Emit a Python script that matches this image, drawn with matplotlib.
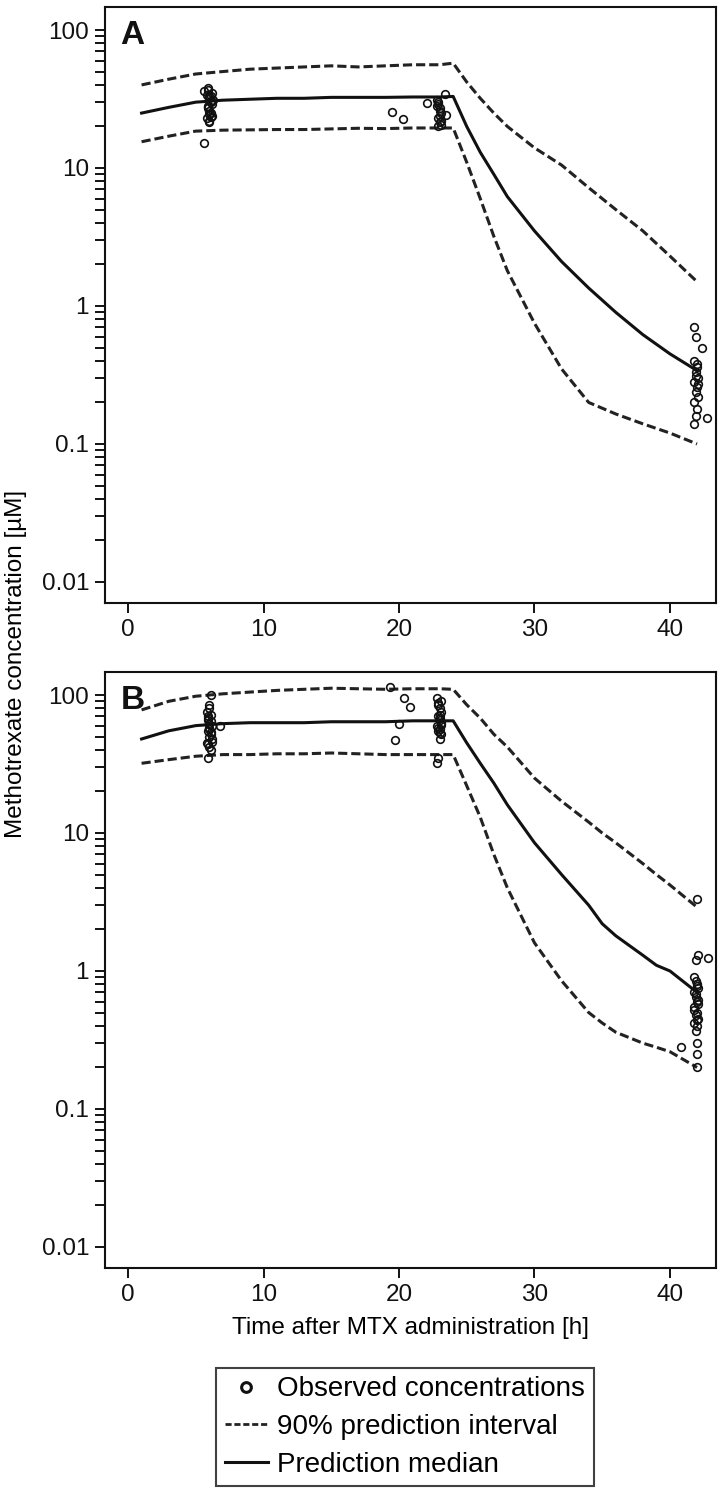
import numpy as np
import matplotlib.pyplot as plt
from matplotlib.lines import Line2D
from matplotlib.ticker import FixedLocator, NullFormatter

plt.rcParams["font.family"] = ["Liberation Sans", "DejaVu Sans"]

# ---- panel A: prediction curves ----
tA = [1, 3, 5, 7, 9, 11, 13, 15, 17, 19, 21, 23, 24, 25, 26, 27, 28, 30, 32, 34, 36, 38, 40, 42]
upA = [40, 44, 48, 50, 52, 53, 54, 55, 54, 55, 56, 56, 57.5, 42, 32, 25, 20, 14, 10.5, 7.2, 5.0, 3.5, 2.3, 1.5]
medA = [25, 27.5, 30, 31, 31.5, 32, 32, 32.5, 32.5, 32.5, 32.7, 32.7, 33, 20, 13, 9, 6.2, 3.5, 2.1, 1.35, 0.9, 0.62, 0.45, 0.34]
loA = [15.5, 17, 18.5, 18.8, 18.9, 19, 19, 19.2, 19.4, 19.3, 19.5, 19.5, 19.5, 11, 6, 3.2, 1.8, 0.75, 0.35, 0.2, 0.165, 0.14, 0.12, 0.1]

# ---- panel B: prediction curves ----
tB = [1, 3, 5, 7, 9, 11, 13, 15, 17, 19, 21, 23, 24, 25, 26, 27, 28, 30, 32, 34, 35, 36, 38, 39, 40, 42]
upB = [78, 90, 98, 102, 105, 108, 110, 112, 111, 110, 111, 111, 110, 85, 68, 52, 42, 25, 17, 12, 10, 8.5, 6, 5, 4.2, 2.9]
medB = [48, 55, 60, 62, 63, 63, 63, 64, 64, 64, 65, 65, 65, 45, 32, 23, 16, 8.5, 5, 3, 2.2, 1.8, 1.3, 1.1, 1.0, 0.7]
loB = [32, 34, 36, 37, 37, 37.5, 37.5, 38, 37.5, 37, 37, 37, 37, 22, 13, 7, 4, 1.6, 0.85, 0.5, 0.42, 0.36, 0.3, 0.28, 0.26, 0.2]

# ---- panel A: observed concentrations ----
obsA_t = [5.6, 5.8, 5.9, 6.0, 6.1, 6.2, 5.9, 6.0, 6.1, 6.2, 5.8, 6.0, 6.3, 6.1, 5.9, 6.0, 6.2, 5.9,
          6.0, 6.1, 5.9, 6.0, 6.1, 5.6,
          19.5, 20.3, 22.1, 23.4, 23.5, 22.8, 22.9, 23.0, 23.1, 22.9, 23.0, 23.1, 22.8, 23.0,
          22.9, 23.0, 23.1, 22.9,
          41.8, 41.9, 42.4, 41.8, 42.0, 41.9, 42.1, 41.8, 42.0, 41.9, 42.1, 41.8, 42.0, 41.9, 41.8, 42.7,
          42.0, 41.9, 42.1]
obsA_c = [36, 34, 38, 32, 30, 29, 27, 26, 25, 24, 23, 22, 31, 33, 28, 21.5, 35, 37,
          33.5, 30.5, 27.5, 24.5, 23.5, 15.2,
          25.5, 22.6, 29.5, 34.4, 24.2, 31, 29, 27, 25, 23, 21.5, 20.5, 28, 26,
          30, 24, 22, 20,
          0.7, 0.6, 0.5, 0.4, 0.38, 0.33, 0.3, 0.28, 0.26, 0.24, 0.22, 0.2, 0.18, 0.16, 0.14, 0.155,
          0.36, 0.31, 0.27]

# ---- panel B: observed concentrations ----
obsB_t = [6.0, 5.8, 5.9, 6.1, 6.2, 6.0, 5.9, 6.1, 6.0, 6.2, 5.8, 6.0, 6.1, 5.9, 6.0, 6.8, 6.1, 5.9,
          6.0, 6.1, 5.9, 6.0, 6.1, 6.2, 5.9,
          19.3, 19.7, 20.0, 20.4, 20.8,
          22.8, 22.9, 23.0, 23.1, 22.9, 23.0, 23.1, 22.8, 23.0, 22.9, 23.1, 23.0, 22.9, 22.8, 23.0,
          23.1, 22.9, 23.0, 23.1, 22.9, 23.0,
          41.8, 41.9, 42.0, 42.1, 41.8, 41.9, 42.0, 42.1, 41.8, 42.0, 41.9, 42.1, 41.8, 42.0, 41.9,
          42.0, 41.9, 42.1, 41.8, 42.0,
          42.8, 42.1, 41.9, 42.0, 42.0, 42.0, 42.0, 40.8]
obsB_c = [85, 75, 70, 65, 60, 57, 55, 52, 50, 48, 45, 42, 40, 68, 62, 60, 100, 35,
          80, 72, 66, 58, 54, 46, 44,
          115, 47, 62, 95, 82,
          95, 88, 80, 75, 70, 66, 63, 60, 57, 55, 52, 48, 35, 32, 72,
          90, 84, 68, 61, 58, 53,
          0.9, 0.85, 0.8, 0.75, 0.7, 0.65, 0.6, 0.58, 0.55, 0.5, 0.48, 0.45, 0.42, 0.4, 0.37,
          0.78, 0.68, 0.62, 0.52, 0.44,
          1.25, 1.3, 1.2, 3.3, 0.3, 0.25, 0.2, 0.28]

panels = [
    ("A", tA, upA, medA, loA, obsA_t, obsA_c),
    ("B", tB, upB, medB, loB, obsB_t, obsB_c),
]

fig = plt.figure(figsize=(7.23, 14.93), dpi=100)
W, H = 723.0, 1493.0
ax_left, ax_w, ax_h = 105 / W, 611 / W, 596 / H
tops = [7, 672]

minor = [k * 10.0 ** d for d in range(-2, 2) for k in range(2, 10)]

for (lab, t, up, med, lo, ot, oc), top in zip(panels, tops):
    ax = fig.add_axes([ax_left, 1 - (top + 596) / H, ax_w, ax_h])
    ax.plot(t, up, color="#222222", lw=2.2, ls=(0, (3.0, 1.3)))
    ax.plot(t, lo, color="#222222", lw=2.2, ls=(0, (3.0, 1.3)))
    ax.plot(t, med, color="#111111", lw=2.2)
    ax.plot(ot, oc, ls="none", marker="o", ms=5.5, mfc="none", mec="#111111", mew=1.2)
    ax.set_yscale("log")
    ax.set_ylim(0.00704, 146.8)
    ax.set_xlim(-1.7, 43.4)
    ax.set_yticks([0.01, 0.1, 1, 10, 100])
    ax.set_yticklabels(["0.01", "0.1", "1", "10", "100"])
    ax.yaxis.set_minor_locator(FixedLocator(minor))
    ax.yaxis.set_minor_formatter(NullFormatter())
    ax.set_xticks([0, 10, 20, 30, 40])
    ax.tick_params(axis="both", which="both", direction="out", length=7.5, width=1.4,
                   labelsize=17.5, colors="#111111", pad=4)
    for s in ax.spines.values():
        s.set_linewidth(1.5)
        s.set_color("#111111")
    ax.text(0.025, 0.978, lab, transform=ax.transAxes, ha="left", va="top",
            fontsize=24, fontweight="bold", color="#111111")
    last_ax = ax

last_ax.set_xlabel("Time after MTX administration [h]", fontsize=17.5, labelpad=8)
fig.text(0.022, 0.555, "Methotrexate concentration [\u00b5M]", rotation=90,
         ha="center", va="center", fontsize=17.5)

handles = [
    Line2D([], [], ls="none", marker="o", ms=7, mfc="white", mec="#111111", mew=2.2),
    Line2D([], [], color="#222222", lw=2.0, ls=(0, (2.2, 1.0))),
    Line2D([], [], color="#111111", lw=2.2),
]
labels = ["Observed concentrations", "90% prediction interval", "Prediction median"]
leg = fig.legend(handles, labels, loc="upper center", bbox_to_anchor=(405 / W, 1 - 1368 / H),
                 fontsize=20, frameon=True, fancybox=False, handlelength=1.55,
                 handletextpad=0.35, borderpad=0.3, labelspacing=0.42, borderaxespad=0)
leg.get_frame().set_edgecolor("#111111")
leg.get_frame().set_linewidth(1.5)

fig.savefig("out.png", dpi=100)
